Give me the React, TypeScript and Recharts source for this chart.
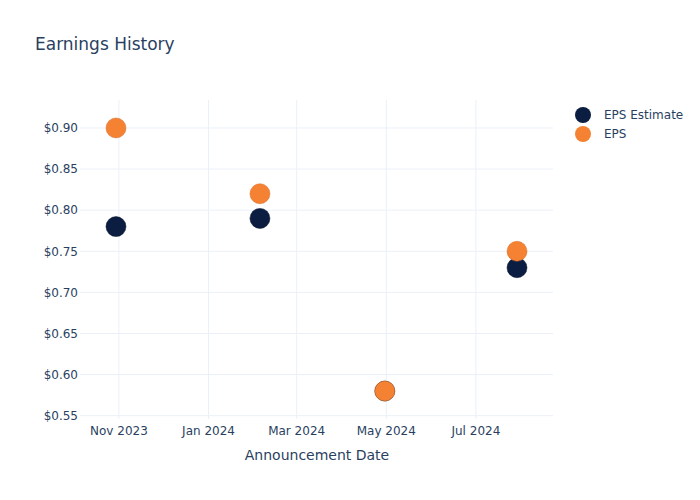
import React from 'react';
import { ScatterChart, Scatter, XAxis, YAxis, CartesianGrid } from 'recharts';

const announcementDates = ['2023-10-30', '2024-02-05', '2024-04-30', '2024-07-29'];
const epsEstimate = [0.78, 0.79, 0.58, 0.73];
const epsActual = [0.9, 0.82, 0.58, 0.75];
const xTickDates = ['2023-11-01', '2024-01-01', '2024-03-01', '2024-05-01', '2024-07-01'];
const yTicks = [0.55, 0.6, 0.65, 0.7, 0.75, 0.8, 0.85, 0.9];
const monthNames = ['Jan', 'Feb', 'Mar', 'Apr', 'May', 'Jun', 'Jul', 'Aug', 'Sep', 'Oct', 'Nov', 'Dec'];

const toTs = (s: string) => new Date(s + 'T00:00:00Z').getTime();

const estimateData = announcementDates.map((d, i) => ({ x: toTs(d), y: epsEstimate[i] }));
const epsData = announcementDates.map((d, i) => ({ x: toTs(d), y: epsActual[i] }));
const xTicks = xTickDates.map(toTs);

const NAVY = '#0b1d40';
const ORANGE = '#f58233';
const TEXT = '#2a3f5f';
const FONT = '"DejaVu Sans", verdana, arial, sans-serif';

const xDomain = [Date.UTC(2023, 9, 5, 12), Date.UTC(2024, 7, 22, 12)];

const fmtDate = (v: number) => {
  const d = new Date(v);
  return `${monthNames[d.getUTCMonth()]} ${d.getUTCFullYear()}`;
};

const dot = (color: string, stroke: string) => (props: any) => (
  <circle cx={props.cx} cy={props.cy} r={10} fill={color} stroke={stroke} strokeWidth={0.5} />
);

const applyScale = (scale: any, v: number): number | null => {
  if (!scale) return null;
  if (typeof scale === 'function') return scale(v);
  if (typeof scale.map === 'function') return scale.map(v);
  if (typeof scale.scale === 'function') return scale.scale(v);
  return null;
};

const hGen = (p: any) =>
  yTicks.map((t) => applyScale(p?.yAxis?.scale, t)).filter((v): v is number => typeof v === 'number' && isFinite(v));
const vGen = (p: any) =>
  xTicks.map((t) => applyScale(p?.xAxis?.scale, t)).filter((v): v is number => typeof v === 'number' && isFinite(v));

export default function App() {
  return (
    <div style={{ position: 'absolute', left: 0, top: 0, width: 700, height: 500, fontFamily: FONT, background: '#fff' }}>
      <div style={{ position: 'absolute', left: 35, top: 34, fontSize: 17, color: TEXT, whiteSpace: 'nowrap' }}>
        Earnings History
      </div>
      <ScatterChart width={700} height={500} margin={{ top: 100, right: 147, bottom: 0, left: 0 }}>
        <CartesianGrid
          stroke="#ebf0f8"
          strokeWidth={1}
          horizontalCoordinatesGenerator={hGen}
          verticalCoordinatesGenerator={vGen}
        />
        <XAxis
          type="number"
          dataKey="x"
          domain={xDomain}
          ticks={xTicks}
          tickFormatter={fmtDate}
          axisLine={false}
          tickLine={false}
          tickSize={0}
          tickMargin={7}
          height={81}
          tick={{ fill: TEXT, fontSize: 12, fontFamily: FONT }}
          allowDataOverflow
        />
        <YAxis
          type="number"
          dataKey="y"
          domain={[0.546, 0.934]}
          ticks={yTicks}
          tickFormatter={(v: number) => `$${v.toFixed(2)}`}
          axisLine={false}
          tickLine={false}
          tickSize={0}
          tickMargin={2}
          width={80}
          tick={{ fill: TEXT, fontSize: 12, fontFamily: FONT }}
          allowDataOverflow
        />
        <Scatter name="EPS Estimate" data={estimateData} fill={NAVY} shape={dot(NAVY, '#061229')} isAnimationActive={false} />
        <Scatter name="EPS" data={epsData} fill={ORANGE} shape={dot(ORANGE, '#d96d26')} isAnimationActive={false} />
      </ScatterChart>
      <div style={{ position: 'absolute', left: 0, width: 634, top: 447, textAlign: 'center', fontSize: 14, color: TEXT }}>
        Announcement Date
      </div>
      <div style={{ position: 'absolute', left: 575, top: 105, fontSize: 12, color: TEXT }}>
        {[['EPS Estimate', NAVY], ['EPS', ORANGE]].map(([label, color]) => (
          <div key={label} style={{ display: 'flex', alignItems: 'center', height: 19 }}>
            <span style={{ display: 'inline-block', width: 16, height: 16, borderRadius: 8, background: color, marginRight: 13 }} />
            <span>{label}</span>
          </div>
        ))}
      </div>
    </div>
  );
}
